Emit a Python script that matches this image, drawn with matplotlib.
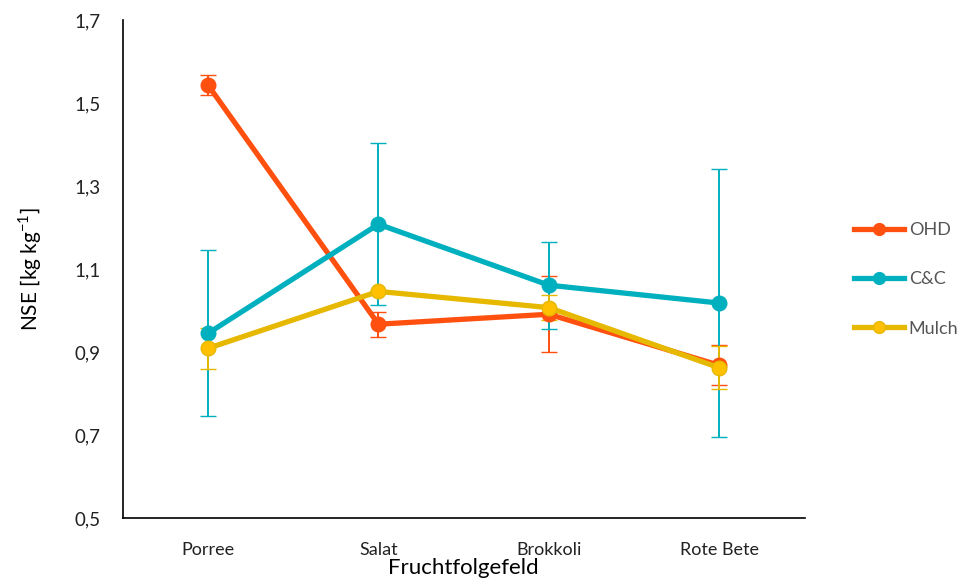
import matplotlib
matplotlib.use("Agg")
import matplotlib.pyplot as plt
from matplotlib.ticker import FixedLocator
from matplotlib.lines import Line2D

categories = ["Porree", "Salat", "Brokkoli", "Rote Bete"]
ohd = [1.543, 0.967, 0.991, 0.868]
ohd_err = [0.024, 0.030, 0.092, 0.048]
cc = [0.945, 1.208, 1.061, 1.018]
cc_err = [0.200, 0.195, 0.105, 0.322]
mulch = [0.909, 1.046, 1.007, 0.862]
mulch_err = [0.050, 0.0, 0.030, 0.052]
series_names = ["OHD", "C&C", "Mulch"]
yticks = [0.5, 0.7, 0.9, 1.1, 1.3, 1.5, 1.7]
ytick_labels = ["0,5", "0,7", "0,9", "1,1", "1,3", "1,5", "1,7"]

plt.rcParams['font.family'] = ['Lato', 'DejaVu Sans']

fig = plt.figure(figsize=(9.67, 5.88), dpi=100)
ax = fig.add_axes([0.127, 0.119, 0.705, 0.847])

x = list(range(len(categories)))
styles = [
    (ohd, ohd_err, "#FF5010", "#FF5010"),
    (cc, cc_err, "#00B0BE", "#00B0BE"),
    (mulch, mulch_err, "#E6B800", "#FFC000"),
]
handles = []
for name, (vals, errs, lc, mf) in zip(series_names, styles):
    ax.errorbar(x, vals, yerr=errs, color=lc, lw=3.8, marker='o', ms=10.5,
                mfc=mf, mec=lc, mew=1.0, ecolor=lc, elinewidth=1.4,
                capsize=5.5, capthick=1.4)
    handles.append(Line2D([], [], color=lc, lw=3.8, marker='o', ms=8.5,
                          mfc=mf, mec=lc, mew=1.0, label=name))

ax.set_xlim(-0.5, 3.5)
ax.set_ylim(0.5, 1.7)
ax.set_xticks(x)
ax.set_xticklabels(categories, fontsize=13)
ax.yaxis.set_major_locator(FixedLocator(yticks))
ax.set_yticklabels(ytick_labels, fontsize=13.5)
ax.tick_params(length=0, pad=16, colors="#222222")
ax.tick_params(axis='x', pad=17)
for s in ["top", "right"]:
    ax.spines[s].set_visible(False)
for s in ["left", "bottom"]:
    ax.spines[s].set_color("black")
    ax.spines[s].set_linewidth(1.2)

ax.set_xlabel("Fruchtfolgefeld", fontsize=16, labelpad=0)
ax.set_ylabel("NSE [kg kg$^{\\mathregular{-1}}$]", fontsize=15, labelpad=22)

leg = fig.legend(handles=handles, loc='center left', bbox_to_anchor=(0.866, 0.525),
                 frameon=False, fontsize=13, handlelength=2.8, labelspacing=1.85,
                 handletextpad=0.25)
for t in leg.get_texts():
    t.set_color("#555555")

fig.savefig("out.png", dpi=100)
